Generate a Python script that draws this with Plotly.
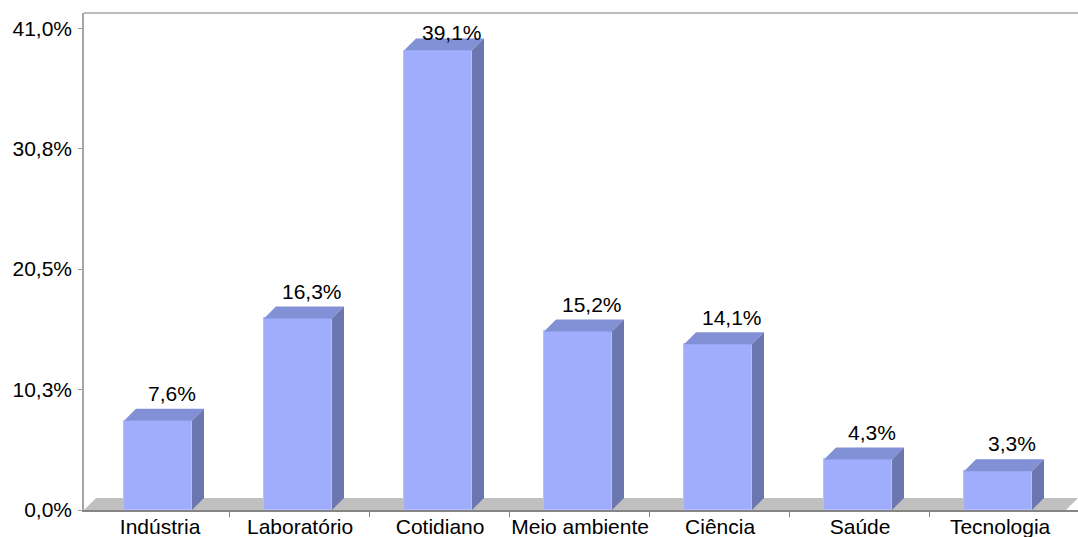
import plotly.graph_objects as go

categories = ["Indústria", "Laboratório", "Cotidiano", "Meio ambiente", "Ciência", "Saúde", "Tecnologia"]
values = [7.6, 16.3, 39.1, 15.2, 14.1, 4.3, 3.3]
value_labels = ["7,6%", "16,3%", "39,1%", "15,2%", "14,1%", "4,3%", "3,3%"]
y_tickvals = [0, 10.25, 20.5, 30.75, 41.0]
y_ticktext = ["0,0%", "10,3%", "20,5%", "30,8%", "41,0%"]

W, H = 1078, 537
L, R, T, B = 84, 0, 13, 27
px_per_cat = 140.0
front_center0 = 158.0
px_per_unit = 11.75

x_min = (L - front_center0) / px_per_cat
x_max = (W - R - front_center0) / px_per_cat
y_max = (H - B - T) / px_per_unit

dx = 12 / px_per_cat
dy = 12 / px_per_unit
hw = 34 / px_per_cat

FRONT = "#A0ADFD"
TOP = "#8290D6"
SIDE = "#6C77B0"
FONT = "Liberation Sans, Arial, sans-serif"
FS = 21

fig = go.Figure()

xs = list(range(len(categories)))
fig.add_trace(go.Bar(
    x=xs, y=values, width=2 * hw,
    marker=dict(color=FRONT, line=dict(color="#B4BEFF", width=1)),
    hoverinfo="skip", showlegend=False,
))

for i, v in zip(xs, values):
    xl, xr = i - hw, i + hw
    fig.add_trace(go.Scatter(
        x=[xl, xr, xr + dx, xl + dx, xl], y=[v, v, v + dy, v + dy, v],
        mode="lines", fill="toself", fillcolor=TOP, line=dict(width=0, color=TOP),
        hoverinfo="skip", showlegend=False,
    ))
    fig.add_trace(go.Scatter(
        x=[xr, xr + dx, xr + dx, xr, xr], y=[0, dy, v + dy, v, 0],
        mode="lines", fill="toself", fillcolor=SIDE, line=dict(width=0, color=SIDE),
        hoverinfo="skip", showlegend=False,
    ))

label_cap = 39.5
for i, v, t in zip(xs, values, value_labels):
    fig.add_annotation(
        x=i + 0.1, y=min(v + dy + 0.15, label_cap), text=t, showarrow=False,
        xanchor="center", yanchor="bottom", font=dict(size=FS, color="#000000", family=FONT),
    )

# floor (gray parallelogram) and top frame line
fdx = 12 / (W - L - R)
fdy = 12 / (H - T - B)
fig.add_shape(type="path", xref="paper", yref="paper", layer="below",
              path=f"M 0 0 L {fdx} {fdy} L 1 {fdy} L {1 - fdx} 0 Z",
              fillcolor="#C0C0C0", line=dict(width=0))
fig.add_shape(type="line", xref="paper", yref="paper", x0=0, x1=1, y0=1, y1=1,
              line=dict(color="#A6A6A6", width=1.5))

boundaries = [i + 0.514 for i in xs[:-1]]

fig.update_layout(
    width=W, height=H,
    margin=dict(l=L, r=R, t=T, b=B, pad=0, autoexpand=False),
    paper_bgcolor="white", plot_bgcolor="white",
    font=dict(family=FONT, size=FS, color="#000000"),
    bargap=0,
    xaxis=dict(
        range=[x_min, x_max], tickmode="array",
        tickvals=[i + 0.015 for i in xs], ticktext=categories,
        ticks="", showgrid=False, zeroline=False, automargin=False,
        ticklabelstandoff=-3,
        showline=True, linecolor="#858585", linewidth=2,
        minor=dict(tickmode="array", tickvals=boundaries, ticks="outside", ticklen=5,
                   tickcolor="#858585", tickwidth=1, showgrid=False),
        tickfont=dict(size=FS, family=FONT, color="#000000"),
    ),
    yaxis=dict(
        range=[0, y_max], tickmode="array", tickvals=y_tickvals, ticktext=y_ticktext,
        ticks="outside", ticklen=4, tickcolor="#A0A0A0", tickwidth=1,
        showgrid=False, zeroline=False, automargin=False,
        ticklabelstandoff=2,
        showline=True, linecolor="#A6A6A6", linewidth=1.5,
        tickfont=dict(size=FS, family=FONT, color="#000000"),
    ),
)

fig.write_html("out.html")
